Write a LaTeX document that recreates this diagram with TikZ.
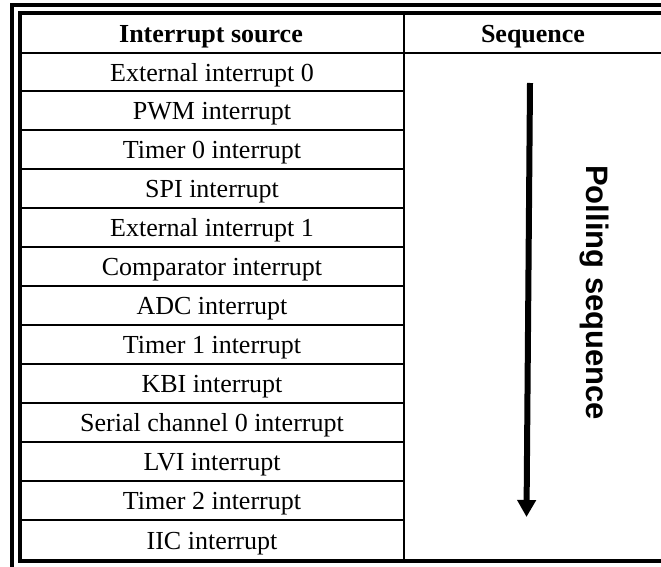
\documentclass[tikz,border=0pt]{standalone}
\usepackage{fontspec}
\setmainfont{Liberation Serif}
\newfontfamily\polfont{Liberation Sans}
\usetikzlibrary{arrows.meta}
\begin{document}
\begin{tikzpicture}[x=1pt,y=-1pt,
  cell/.style={anchor=base, inner sep=0pt, font=\fontsize{26}{30}\selectfont},
  head/.style={anchor=base, inner sep=0pt, font=\fontsize{26}{30}\selectfont\bfseries},
  frame/.style={line width=4pt},
  rule/.style={line width=2pt},
  seqarrow/.style={line width=6pt, -{Triangle[width=18pt,length=17pt]}},
  seqlabel/.style={rotate=-90, anchor=base west, inner sep=0pt, font=\fontsize{31}{36}\selectfont\polfont\bfseries}]
\useasboundingbox (0,0) rectangle (661,567);
\clip (0,0) rectangle (661,567);
% frames
\draw[frame] (12,5) rectangle (671,577);
\draw[frame] (20,13) rectangle (663,561);
% column divider and header rule
\draw[rule] (404,13) -- (404,561);
\draw[rule] (20,53) -- (663,53);
% row rules
\foreach \y in {91,130,169,207.5,246.5,285.5,324.5,363.5,402.5,442,481,520}
  \draw[rule] (20,\y) -- (404,\y);
% header
\node[head] (hsrc) at (211,42.5) {Interrupt source};
\node[head] (hseq) at (533,42.5) {Sequence};
% rows
\node[cell] (r1) at (212,81.5) {External interrupt 0};
\node[cell] (r2) at (212,119.5) {PWM interrupt};
\node[cell] (r3) at (212,158.5) {Timer 0 interrupt};
\node[cell] (r4) at (212,197.5) {SPI interrupt};
\node[cell] (r5) at (212,236) {External interrupt 1};
\node[cell] (r6) at (212,275) {Comparator interrupt};
\node[cell] (r7) at (212,314) {ADC interrupt};
\node[cell] (r8) at (212,353) {Timer 1 interrupt};
\node[cell] (r9) at (212,392) {KBI interrupt};
\node[cell] (r10) at (212,431) {Serial channel 0 interrupt};
\node[cell] (r11) at (212,470.5) {LVI interrupt};
\node[cell] (r12) at (212,509.5) {Timer 2 interrupt};
\node[cell] (r13) at (212,549) {IIC interrupt};
% polling arrow
\coordinate (astart) at (530,83);
\coordinate (aend) at (526.5,517);
\draw[seqarrow] (astart) -- (aend);
\node[seqlabel] (plabel) at (586.5,165) {Polling sequence};
\end{tikzpicture}
\end{document}
